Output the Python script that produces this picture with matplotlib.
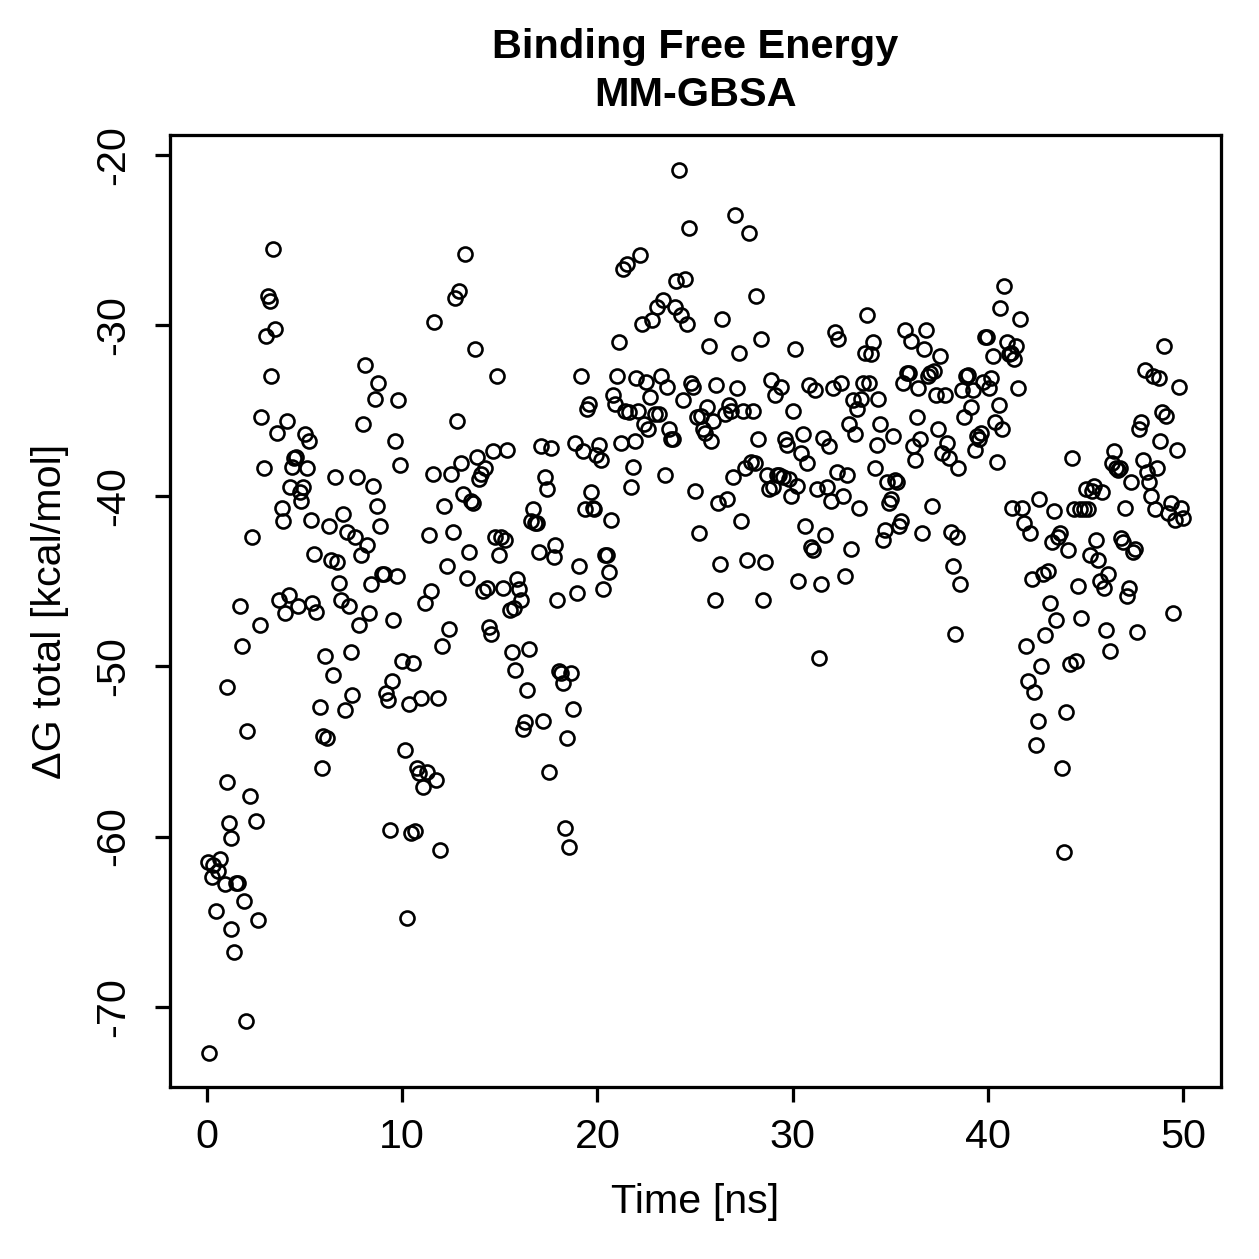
import matplotlib
matplotlib.use("Agg")
import matplotlib.pyplot as plt

# MM-GBSA binding free energy per frame
time_ns = [
    0.1, 0.05, 0.3, 0.25, 0.65, 0.55, 0.45, 0.9, 1.0, 1.0,
    1.1, 1.2, 1.2, 1.4, 1.5, 1.6, 1.7, 1.8, 1.9, 2.0,
    2.05, 2.2, 2.3, 2.5, 2.6, 2.7, 2.75, 2.9, 3.0, 3.1,
    3.2, 3.3, 3.4, 3.5, 3.6, 3.7, 3.85, 3.9, 4.0, 4.1,
    4.2, 4.25, 4.35, 4.45, 4.55, 4.65, 4.75, 4.8, 4.9, 5.0,
    5.1, 5.2, 5.3, 5.4, 5.5, 5.6, 5.8, 5.9, 5.95, 6.05,
    6.15, 6.25, 6.35, 6.45, 6.55, 6.65, 6.75, 6.85, 6.95, 7.05,
    7.15, 7.25, 7.35, 7.45, 7.6, 7.7, 7.8, 7.9, 8.0, 8.1,
    8.2, 8.3, 8.4, 8.5, 8.6, 8.7, 8.75, 8.85, 8.95, 9.05,
    9.15, 9.25, 9.35, 9.45, 9.55, 9.65, 9.75, 9.8, 9.9, 10.0,
    10.15, 10.25, 10.35, 10.45, 10.55, 10.65, 10.75, 10.85, 10.95, 11.05,
    11.15, 11.25, 11.35, 11.45, 11.55, 11.65, 11.75, 11.85, 11.95, 12.05,
    12.15, 12.3, 12.4, 12.5, 12.6, 12.7, 12.8, 12.9, 13.0, 13.1,
    13.2, 13.3, 13.4, 13.5, 13.6, 13.75, 13.85, 13.95, 14.05, 14.15,
    14.25, 14.35, 14.45, 14.55, 14.65, 14.75, 14.85, 14.95, 15.05, 15.15,
    15.25, 15.35, 15.5, 15.6, 15.7, 15.8, 15.9, 16.0, 16.1, 16.2,
    16.3, 16.4, 16.5, 16.6, 16.7, 16.8, 16.9, 17.0, 17.1, 17.2,
    17.3, 17.4, 17.5, 17.6, 17.75, 17.85, 17.95, 18.05, 18.15, 18.25,
    18.35, 18.45, 18.55, 18.65, 18.75, 18.85, 18.95, 19.05, 19.15, 19.25,
    19.35, 19.45, 19.55, 19.65, 19.75, 19.85, 19.95, 20.1, 20.2, 20.3,
    20.4, 20.5, 20.6, 20.7, 20.8, 20.9, 21.0, 21.1, 21.2, 21.3,
    21.4, 21.5, 21.6, 21.7, 21.8, 21.9, 22.0, 22.1, 22.2, 22.3,
    22.4, 22.5, 22.6, 22.7, 22.8, 22.95, 23.05, 23.15, 23.25, 23.35,
    23.45, 23.55, 23.65, 23.75, 23.85, 23.95, 24.05, 24.2, 24.3, 24.4,
    24.5, 24.6, 24.7, 24.8, 24.9, 25.0, 25.1, 25.2, 25.3, 25.4,
    25.5, 25.6, 25.7, 25.8, 25.9, 26.0, 26.1, 26.2, 26.3, 26.4,
    26.55, 26.65, 26.75, 26.85, 26.95, 27.05, 27.15, 27.25, 27.35, 27.45,
    27.55, 27.65, 27.75, 27.85, 27.95, 28.05, 28.15, 28.25, 28.4, 28.5,
    28.6, 28.7, 28.8, 28.9, 29.0, 29.1, 29.2, 29.3, 29.4, 29.5,
    29.6, 29.7, 29.8, 29.9, 30.0, 30.1, 30.2, 30.3, 30.45, 30.55,
    30.65, 30.75, 30.85, 30.95, 31.05, 31.15, 31.25, 31.35, 31.45, 31.55,
    31.65, 31.75, 31.85, 31.95, 32.05, 32.15, 32.25, 32.35, 32.5, 32.6,
    32.7, 32.8, 32.9, 33.0, 33.1, 33.2, 33.3, 33.4, 33.5, 33.6,
    33.7, 33.8, 33.9, 34.0, 34.1, 34.2, 34.3, 34.4, 34.5, 34.65,
    34.75, 34.85, 34.95, 35.05, 35.15, 35.25, 35.35, 35.45, 35.55, 35.65,
    35.75, 35.85, 35.95, 36.05, 36.15, 36.25, 36.35, 36.45, 36.55, 36.65,
    36.75, 36.85, 36.95, 37.05, 37.15, 37.25, 37.35, 37.45, 37.55, 37.65,
    37.8, 37.9, 38.0, 38.1, 38.2, 38.3, 38.4, 38.5, 38.6, 38.7,
    38.8, 38.9, 39.0, 39.15, 39.25, 39.35, 39.45, 39.55, 39.65, 39.75,
    39.85, 39.95, 40.05, 40.15, 40.25, 40.35, 40.45, 40.55, 40.65, 40.75,
    40.85, 41.0, 41.1, 41.2, 41.25, 41.35, 41.45, 41.55, 41.65, 41.75,
    41.85, 41.95, 42.05, 42.15, 42.25, 42.35, 42.45, 42.55, 42.65, 42.75,
    42.85, 42.95, 43.1, 43.2, 43.3, 43.4, 43.5, 43.6, 43.7, 43.8,
    43.9, 44.0, 44.1, 44.2, 44.3, 44.4, 44.5, 44.6, 44.7, 44.8,
    44.95, 45.05, 45.15, 45.25, 45.35, 45.45, 45.55, 45.65, 45.75, 45.85,
    45.95, 46.05, 46.15, 46.25, 46.35, 46.45, 46.55, 46.65, 46.75, 46.85,
    46.95, 47.05, 47.15, 47.25, 47.35, 47.45, 47.55, 47.65, 47.75, 47.85,
    47.95, 48.05, 48.15, 48.25, 48.35, 48.45, 48.55, 48.65, 48.75, 48.85,
    48.95, 49.05, 49.15, 49.25, 49.4, 49.5, 49.6, 49.7, 49.8, 49.9,
    50.0,
]

dg_total = [
    -72.7, -61.5, -61.7, -62.4, -61.3, -62.0, -64.4, -62.8, -56.8, -51.2,
    -59.2, -60.1, -65.4, -66.8, -62.7, -62.7, -46.5, -48.8, -63.8, -70.8,
    -53.8, -57.6, -42.4, -59.1, -64.9, -47.6, -35.4, -38.4, -30.6, -28.3,
    -28.6, -33.0, -25.5, -30.2, -36.3, -46.1, -40.7, -41.5, -46.9, -35.6,
    -45.8, -39.5, -38.3, -37.8, -37.7, -46.5, -39.8, -40.3, -39.5, -36.4,
    -38.4, -36.8, -41.4, -46.3, -43.4, -46.8, -52.4, -56.0, -54.1, -49.4,
    -54.2, -41.8, -43.8, -50.5, -38.9, -43.9, -45.1, -46.1, -41.1, -52.6,
    -42.1, -46.5, -49.2, -51.7, -42.4, -38.9, -47.6, -43.5, -35.8, -32.3,
    -42.9, -46.9, -45.2, -39.4, -34.3, -40.6, -33.4, -41.8, -44.6, -44.6,
    -51.6, -52.0, -59.6, -50.9, -47.3, -36.8, -44.7, -34.4, -38.2, -49.7,
    -54.9, -64.8, -52.2, -59.8, -49.8, -59.7, -56.0, -56.3, -51.9, -57.1,
    -46.3, -56.2, -42.3, -45.6, -38.7, -29.8, -56.7, -51.9, -60.8, -48.8,
    -40.6, -44.1, -47.8, -38.7, -42.1, -28.4, -35.6, -28.0, -38.1, -39.9,
    -25.8, -44.8, -43.3, -40.3, -40.4, -31.4, -37.7, -39.0, -38.7, -45.6,
    -38.4, -45.4, -47.7, -48.1, -37.4, -42.4, -33.0, -43.5, -42.4, -45.4,
    -42.6, -37.3, -46.7, -49.2, -46.6, -50.2, -44.9, -45.5, -46.1, -53.7,
    -53.3, -51.4, -49.0, -41.5, -40.8, -41.6, -41.6, -43.3, -37.1, -53.2,
    -38.9, -39.6, -56.2, -37.2, -43.6, -42.9, -46.1, -50.3, -50.4, -51.0,
    -59.5, -54.2, -60.6, -50.4, -52.5, -36.9, -45.7, -44.1, -33.0, -37.4,
    -40.8, -34.9, -34.6, -39.8, -40.7, -40.8, -37.6, -37.0, -37.9, -45.5,
    -43.5, -43.5, -44.5, -41.4, -34.1, -34.6, -33.0, -31.0, -36.9, -26.7,
    -35.0, -26.4, -35.1, -39.5, -38.3, -36.8, -33.1, -35.0, -25.9, -29.9,
    -35.8, -33.3, -36.1, -34.2, -29.7, -35.2, -28.9, -35.2, -33.0, -28.5,
    -38.8, -33.6, -36.1, -36.7, -36.7, -28.9, -27.4, -20.9, -29.4, -34.4,
    -27.3, -29.9, -24.3, -33.4, -33.6, -39.7, -35.4, -42.2, -35.3, -36.1,
    -36.3, -34.8, -31.2, -36.8, -35.6, -46.1, -33.5, -40.4, -44.0, -29.6,
    -35.2, -40.2, -34.7, -35.0, -38.9, -23.5, -33.7, -31.6, -41.5, -35.0,
    -38.4, -43.8, -24.6, -38.0, -35.0, -38.1, -28.3, -36.7, -30.8, -46.1,
    -43.9, -38.8, -39.6, -33.2, -39.5, -34.1, -38.8, -38.8, -33.6, -38.9,
    -36.7, -37.0, -39.0, -40.0, -35.0, -31.4, -39.4, -45.0, -37.5, -36.4,
    -41.8, -38.1, -33.5, -43.0, -43.2, -33.8, -39.6, -49.5, -45.2, -36.6,
    -42.3, -39.5, -37.1, -40.3, -33.7, -30.4, -38.6, -30.8, -33.4, -40.0,
    -44.7, -38.8, -35.8, -43.1, -34.4, -36.4, -34.9, -40.7, -34.3, -33.4,
    -31.6, -29.4, -33.4, -31.7, -31.0, -38.4, -37.0, -34.3, -35.8, -42.6,
    -42.0, -39.2, -40.4, -40.2, -36.5, -39.1, -39.2, -41.8, -41.5, -33.4,
    -30.3, -32.8, -32.8, -30.9, -37.1, -37.9, -35.4, -33.7, -36.7, -42.2,
    -31.4, -30.3, -33.0, -32.8, -40.6, -32.7, -34.1, -36.1, -31.8, -37.5,
    -34.1, -36.9, -37.8, -42.1, -44.1, -48.1, -42.4, -38.4, -45.2, -33.8,
    -35.4, -33.0, -32.9, -34.8, -33.8, -37.3, -36.5, -36.7, -36.3, -33.3,
    -30.7, -30.7, -33.7, -33.1, -31.8, -35.7, -38.0, -34.7, -29.0, -36.1,
    -27.7, -31.0, -31.7, -31.6, -40.7, -32.0, -31.2, -33.7, -29.6, -40.7,
    -41.6, -48.8, -50.9, -42.2, -44.9, -51.5, -54.6, -53.2, -40.2, -50.0,
    -44.6, -48.2, -44.4, -46.3, -42.7, -40.9, -47.3, -42.4, -42.2, -56.0,
    -60.9, -52.7, -43.2, -49.9, -37.8, -40.8, -49.7, -45.3, -40.8, -47.2,
    -40.8, -39.6, -40.8, -43.5, -39.7, -39.4, -42.6, -43.8, -45.0, -39.8,
    -45.4, -47.9, -44.6, -49.1, -38.1, -37.4, -38.4, -38.5, -38.4, -42.5,
    -42.7, -40.7, -45.9, -45.4, -39.2, -43.3, -43.1, -48.0, -36.1, -35.7,
    -37.9, -32.6, -38.6, -39.2, -40.0, -33.0, -40.8, -38.4, -33.1, -36.8,
    -35.1, -31.2, -35.3, -41.0, -40.4, -46.9, -41.4, -37.3, -33.6, -40.7,
    -41.3,
]

x_ticks = [0, 10, 20, 30, 40, 50]
y_ticks = [-70, -60, -50, -40, -30, -20]

W = H = 1259
DPI = 180
plt.rcParams["font.family"] = ["Liberation Sans", "DejaVu Sans"]

fig = plt.figure(figsize=(W / DPI, H / DPI), dpi=DPI)
fig.patch.set_facecolor("white")

# axes box in pixel coords of the reference: left 170, right 1221, top 135, bottom 1087
ax = fig.add_axes([170 / W, 1 - 1087 / H, (1221 - 170) / W, (1087 - 135) / H])

ax.plot(time_ns, dg_total, linestyle="none", marker="o", markersize=5.6,
        markerfacecolor="none", markeredgecolor="black", markeredgewidth=1.05)

ax.set_xlim(-1.9, 51.95)
ax.set_ylim(-74.7, -18.83)
ax.set_xticks(x_ticks)
ax.set_yticks(y_ticks)
ax.set_yticklabels([str(v) for v in y_ticks], rotation=90, va="center")

for sp in ax.spines.values():
    sp.set_linewidth(1.3)
    sp.set_color("black")
ax.tick_params(axis="both", direction="out", length=6, width=1.3,
               labelsize=16.5, color="black")
ax.tick_params(axis="x", pad=6.5)
ax.tick_params(axis="y", pad=9)

fs = 16.5
fig.text(695.5 / W, 1 - 47 / H, "Binding Free Energy", ha="center", va="center",
         fontsize=16.6, fontweight="bold")
fig.text(695.5 / W, 1 - 95 / H, "MM-GBSA", ha="center", va="center",
         fontsize=16.6, fontweight="bold")
fig.text(695.5 / W, 1 - 1202 / H, "Time [ns]", ha="center", va="center",
         fontsize=fs)
fig.text(50 / W, 1 - 611 / H, "ΔG total [kcal/mol]", ha="center", va="center",
         rotation=90, fontsize=fs)

fig.savefig("out.png", dpi=DPI)
